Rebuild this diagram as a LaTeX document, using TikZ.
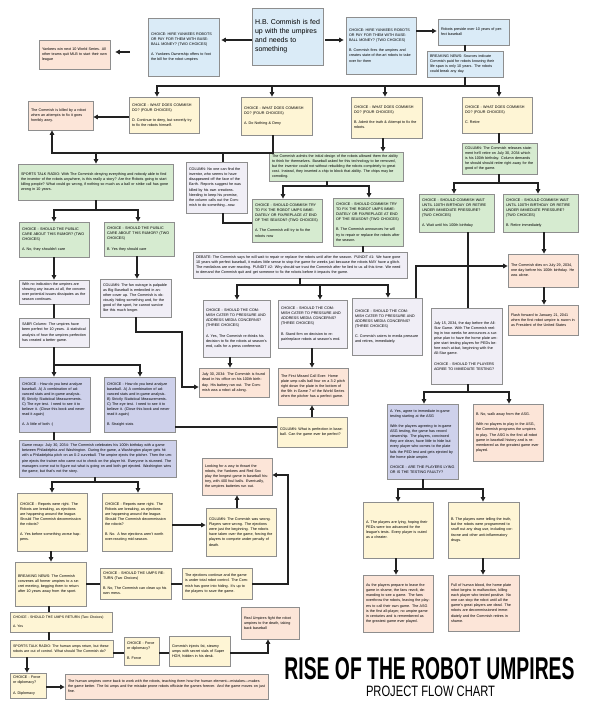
\documentclass[tikz,border=0pt]{standalone}
\usepackage{fontspec}
\setmainfont{Liberation Sans}
\usetikzlibrary{arrows.meta}
\definecolor{cblue}{HTML}{DAEBF7}
\definecolor{cpeach}{HTML}{FCE5D8}
\definecolor{cyell}{HTML}{FEF5D5}
\definecolor{cgreen}{HTML}{D6EBD0}
\definecolor{clav}{HTML}{F0EEF6}
\definecolor{cblav}{HTML}{CED1EB}
\definecolor{cline}{HTML}{222222}
\definecolor{cbord}{HTML}{8E8E8E}
\newcommand\bx[7]{%
  \pgfmathsetmacro\bxw{#5-#3}\pgfmathsetmacro\bxh{#6-#4}%
  \pgfmathsetmacro\bxcx{(#3+#5)/2}\pgfmathsetmacro\bxcy{(#4+#6)/2}%
  \pgfmathsetmacro\bxtw{#5-#3-6}%
  \node[fbox,#2,minimum width=\bxw pt,minimum height=\bxh pt,text width=\bxtw pt] (#1) at (\bxcx,\bxcy) {#7};}
\newcommand\gap{\\[5.1pt]}
\begin{document}
\begin{tikzpicture}[x=1pt,y=-1pt,
  fbox/.style={draw=cbord,line width=0.8pt,inner xsep=3pt,inner ysep=2pt,align=left,
    font=\fontsize{3.7}{5.1}\selectfont},
  bl/.style={fill=cblue}, pc/.style={fill=cpeach}, ye/.style={fill=cyell},
  gr/.style={fill=cgreen}, lv/.style={fill=clav}, bv/.style={fill=cblav},
  ln/.style={draw=cline,line width=1.5pt,line cap=rect},
  ar/.style={draw=cline,line width=1.5pt,-{Triangle[length=4.5pt,width=4.5pt]}}]
\fill[white] (0,0) rectangle (600,720);
\useasboundingbox (0,0) rectangle (600,720);
% ---------- top ----------
\bx{main}{bl,font=\fontsize{7}{9}\selectfont}{252}{8}{323}{65}{H.B. Commish is fed\\up with the umpires\\and needs to\\something}
\bx{chA}{bl}{148}{18}{219}{76}{CHOICE: HIRE YANKEES ROBOTS OR PAY FOR THEM WITH BASEBALL MONEY? (TWO CHOICES)\gap A. Yankees Ownership offers to foot the bill for the robot umpires}
\bx{yank}{pc}{39}{40}{110}{69}{Yankees win next 10 World Series. All other teams quit MLB to start their own league}
\bx{chB}{bl}{346}{17}{416}{74}{CHOICE: HIRE YANKEES ROBOTS OR PAY FOR THEM WITH BASEBALL MONEY? (TWO CHOICES)\gap B. Commish fires the umpires and creates state-of-the-art robots to take over for them}
\bx{robots}{bl}{438}{19}{509}{45}{Robots preside over 10 years of perfect baseball}
\bx{bnews}{bl}{427}{51}{503}{77}{BREAKING NEWS: Sources indicate Commish paid for robots knowing their life span is only 10 years. The robots could break any day.}
\bx{doD}{ye}{129}{97}{199}{133}{CHOICE - WHAT DOES COMMISH DO? (FOUR CHOICES)\gap D. Continue to deny, but secretly try to fix the robots himself.}
\bx{doA}{ye}{241}{97}{312}{135}{CHOICE - WHAT DOES COMMISH DO? (FOUR CHOICES)\gap A. Do Nothing \& Deny}
\bx{doB}{ye}{351}{97}{422}{138}{CHOICE - WHAT DOES COMMISH DO? (FOUR CHOICES)\gap B. Admit the truth \& Attempt to fix the robots.}
\bx{doC}{ye}{462}{97}{532}{133}{CHOICE - WHAT DOES COMMISH DO? (FOUR CHOICES)\gap C. Retire}
\bx{killed}{pc}{28}{101}{93}{130}{The Commish is killed by a robot when an attempts to fix it goes horribly awry.}
% ---------- second tier ----------
\bx{str1}{gr}{18}{164}{173}{200}{SPORTS TALK RADIO: With The Commish denying everything and nobody able to find the inventor of the robots anywhere, is this really a story? Are the Robots going to start killing people? What could go wrong, if nothing so much as a ball or strike call has gone wrong in 10 years.}
\bx{colinv}{lv}{186}{162}{247}{213}{COLUMN: No one can find the inventor, who seems to have disappeared off the face of the Earth. Reports suggest he was killed by his own creations. Needing to keep his promise, the column calls out the Commish to do something...now.}
\bx{admits}{gr}{269}{152}{403}{181}{The Commish admits the initial design of the robots allowed them the ability to think for themselves. Baseball asked for this technology to be removed, but the inventor could not without rebuilding the robots completely to great cost. Instead, they inserted a chip to block that ability. The chips may be corroding.}
\bx{fixA}{gr}{252}{199}{322}{242}{CHOICE - SHOULD COMMISH TRY TO FIX THE ROBOT UMPS IMMEDIATELY OR FIX/REPLACE AT END OF THE SEASON? (TWO CHOICES)\gap A. The Commish will try to fix the robots now}
\bx{fixB}{gr}{333}{198}{403}{246}{CHOICE - SHOULD COMMISH TRY TO FIX THE ROBOT UMPS IMMEDIATELY OR FIX/REPLACE AT END OF THE SEASON? (TWO CHOICES)\gap B. The Commish announces he will try to repair or replace the robots after the season.}
\bx{colret}{gr}{462}{143}{537}{174}{COLUMN: The Commish releases statement he'll retire on July 30, 2034 which is his 100th birthday. Column demands he should should retire right away for the good of the game.}
\bx{waitA}{gr}{419}{194}{494}{232}{CHOICE - SHOULD COMMISH WAIT UNTIL 100TH BIRTHDAY OR RETIRE UNDER IMMEDIATE PRESSURE? (TWO CHOICES)\gap A. Wait until his 100th birthday}
\bx{waitB}{gr}{503}{194}{578}{232}{CHOICE - SHOULD COMMISH WAIT UNTIL 100TH BIRTHDAY OR RETIRE UNDER IMMEDIATE PRESSURE? (TWO CHOICES)\gap B. Retire immediately}
\bx{dies}{pc}{508}{254}{578}{287}{The Commish dies on July 29, 2034, one day before his 100th birthday. He was alone.}
\bx{flash}{pc}{508}{305}{578}{335}{Flash forward to January 21, 2041 when the first robot umpire is sworn in as President of the United States}
\bx{pubA}{gr}{19}{222}{89}{257}{CHOICE - SHOULD THE PUBLIC CARE ABOUT THIS RUMOR? (TWO CHOICES)\gap A. No, they shouldn't care}
\bx{pubB}{gr}{104}{222}{174}{256}{CHOICE - SHOULD THE PUBLIC CARE ABOUT THIS RUMOR? (TWO CHOICES)\gap B. Yes they should care}
\bx{noind}{lv}{19}{280}{89}{304}{With no indication the umpires are showing any issues at all, the concern over potential issues dissipates as the season continues.}
\bx{colfan}{lv}{100}{279}{171}{317}{COLUMN: The fan outrage is palpable as Big Baseball is embroiled in another cover up. The Commish is obviously hiding something and, for the good of the sport, he cannot survive like this much longer.}
\bx{debate}{lv}{193}{252}{407}{278}{DEBATE: The Commish says he will wait to repair or replace the robots until after the season. PUNDIT \#1: We have gone 10 years with perfect baseball, it makes little sense to stop the game for weeks just because the robots MAY have a glitch. The mediafans are over-reacting. PUNDIT \#2: Why should we trust the Commish after he lied to us all this time. We need to demand the Commish quit and get someone to fix the robots before it impacts the game.}
\bx{catA}{lv}{203}{300}{270}{357}{CHOICE - SHOULD THE COMMISH CATER TO PRESSURE AND ADDRESS MEDIA CONCERNS? (THREE CHOICES)\gap A. Yes, The Commish re-thinks his decision to fix the robots at season's end, calls for a press conference.}
\bx{catB}{lv}{278}{300}{347}{348}{CHOICE - SHOULD THE COMMISH CATER TO PRESSURE AND ADDRESS MEDIA CONCERNS? (THREE CHOICES)\gap B. Stand firm on decision to repair/replace robots at season's end.}
\bx{catC}{lv}{352}{298}{422}{355}{CHOICE - SHOULD THE COMMISH CATER TO PRESSURE AND ADDRESS MEDIA CONCERNS? (THREE CHOICES)\gap C. Commish caters to media pressure and retires, immediately.}
\bx{jdead}{pc}{199}{368}{269}{397}{July 30, 2034: The Commish is found dead in his office on his 100th birthday. His battery ran out. The Commish was a robot all along.}
\bx{missed}{pc}{278}{368}{348}{405}{The First Missed Call Ever: Home plate ump calls ball four on a 3-2 pitch right down the plate in the bottom of the 9th in Game 7 of the World Series when the pitcher has a perfect game.}
\bx{colperf}{ye}{277}{417}{347}{447}{COLUMN: What is perfection in baseball. Can the game ever be perfect?}
\bx{sabr}{lv}{19}{318}{89}{347}{SABR Column: The umpires have been perfect for 10 years. A statistical analysis of how the umpires perfection has created a better game.}
\bx{anA}{bv}{19}{377}{90}{432}{CHOICE - How do you best analyze baseball. A) A combination of advanced stats and in-game analysis. B) Strictly Statistical Measurements. C) The eye test. I need to see it to believe it. (Close this book and never read it again)\gap A. A little of both :)}
\bx{anB}{bv}{104}{377}{175}{432}{CHOICE - How do you best analyze baseball. A) A combination of advanced stats and in-game analysis. B) Strictly Statistical Measurements. C) The eye test. I need to see it to believe it. (Close this book and never read it again)\gap B. Straight stats}
\bx{recap}{bv}{19}{440}{176}{477}{Game recap: July 30, 2034: The Commish celebrates his 100th birthday with a game between Philadelphia and Washington. During the game, a Washington player gets hit with a Philadelphia pitch on an 0-2 curveball. The umpire ejects the pitcher. Then the umpire ejects the trainer who came out to check on the player hit. Everyone is stunned. The managers come out to figure out what is going on and both get ejected. Washington wins the game, but that's not the story.}
\bx{repA}{ye}{17}{493}{87}{551}{CHOICE - Reports were right. The Robots are breaking, as ejections are happening around the league. Should The Commish decommission the robots?\gap A. Yes before something worse happens.}
\bx{repB}{ye}{102}{493}{172}{551}{CHOICE - Reports were right. The Robots are breaking, as ejections are happening around the league. Should The Commish decommission the robots?\gap B. No. A few ejections aren't worth over-reacting mid-season.}
\bx{colwrong}{ye}{206}{508}{276}{556}{COLUMN: The Commish was wrong. Players were wrong. The ejections were just the beginning. The robots have taken over the game, forcing the players to compete under penalty of death.}
\bx{looking}{pc}{202}{458}{272}{495}{Looking for a way to thwart the robots, the Yankees and Red Sox play the longest game in baseball history, with 400 foul balls. Eventually, the umpires batteries run out.}
\bx{bnews2}{ye}{15}{562}{86}{606}{BREAKING NEWS: The Commish convenes all former umpires to a secret meeting, begging them to return after 10 years away from the sport.}
\bx{umpsB}{ye}{100}{568}{171}{599}{CHOICE - SHOULD THE UMPS RETURN (Two Choices)\gap B. No, The Commish can clean up his own mess.}
\bx{eject}{ye}{182}{568}{252}{599}{The ejections continue and the game is under total robot control. The Commish has gone into hiding. It's up to the players to save the game.}
\bx{umpsA}{ye,inner ysep=1pt,font=\fontsize{3.5}{4.6}\selectfont}{10}{612}{112}{632}{CHOICE - SHOULD THE UMPS RETURN (Two Choices)\\[4.6pt]A. Yes}
\bx{str2}{ye,inner ysep=1pt,font=\fontsize{3.6}{4.5}\selectfont}{10}{640}{113}{657}{SPORTS TALK RADIO: The human umps return, but these robots are out of control. What should The Commish do?}
\bx{forceB}{ye}{124}{637}{159}{665}{CHOICE - Force or diplomacy?\gap B. Force}
\bx{hgh}{ye}{169}{636}{230}{666}{Commish injects fat, steamy umps with secret vials of Super HGH, hidden in his desk.}
\bx{real}{pc}{241}{607}{299}{639}{Real Umpires fight the robot umpires to the death, taking back baseball}
\bx{dipl}{ye}{10}{673}{46}{698}{CHOICE - Force or diplomacy?\gap A. Diplomacy}
\bx{final}{pc}{65}{674}{268}{699}{The human umpires come back to work with the robots, teaching them how the human element---mistakes---makes the game better. The fat umps and the mistake prone robots officiate the games forever. And the game moves on just fine.}
\bx{jul15}{lv}{431}{308}{502}{384}{July 15, 2034, the day before the All-Star Game. With The Commish reeling in two weeks he announces a surprise plan to have the home plate umpire start testing players for PEDs before each at-bat, beginning with the All-Star game.\gap CHOICE - SHOULD THE PLAYERS AGREE TO IMMEDIATE TESTING?}
\bx{yesASG}{bv}{387}{404}{458}{479}{A. Yes, agree to immediate in-game testing starting at the ASG\gap With the players agreeing to in-game ASG testing, the game has record viewership. The players, convinced they are clean, have little to hide but every player who comes to the plate fails the PED test and gets ejected by the home plate umpire.\gap CHOICE - ARE THE PLAYERS LYING OR IS THE TESTING FAULTY?}
\bx{noASG}{pc}{473}{404}{543}{461}{B. No, walk away from the ASG.\gap With no players to play in the ASG, the Commish programs the umpires to play. The ASG is the first all-robot game in baseball history and is remembered as the greatest game ever played.}
\bx{lying}{ye}{363}{502}{433}{558}{A. The players are lying, hoping their PEDs were too advanced for the league's tests. Every player is outed as a cheater.}
\bx{truth}{ye}{448}{502}{519}{558}{B. The players were telling the truth, but the robots were programmed to snuff out any drug use, including cortisone and other anti-inflammatory drugs.}
\bx{fans}{pc}{363}{575}{433}{632}{As the players prepare to leave the game in shame, the fans revolt, demanding to see a game. The fans overthrow the robots, leaving the players to call their own game. The ASG is the first all-player, no umpire game in centuries and is remembered as the greatest game ever played.}
\bx{blood}{pc}{448}{575}{519}{631}{Full of human blood, the home plate robot begins to malfunction, killing each player who tested positive. No one can stop the robot until all the game's great players are dead. The robots are decommissioned immediately and the Commish retires in shame.}
% ---------- title ----------
\node[inner sep=0pt] (title) at (429.5,668.5) {\resizebox{290pt}{22pt}{\bfseries RISE OF THE ROBOT UMPIRES}};
\node[inner sep=0pt] (subtitle) at (430.5,691.5) {\resizebox{129pt}{10.5pt}{PROJECT FLOW CHART}};
% ---------- connectors ----------
\draw[ar,shorten >=2pt] (main.west |- 0,40) -- (chA.east |- 0,40);
\draw[ar,shorten <=18pt,shorten >=5pt] (chA.west |- 0,52) -- (yank.east |- 0,52);
\draw[ar,shorten <=2pt,shorten >=2pt] (main.east |- 0,40) -- (chB.west |- 0,40);
\draw[ar,shorten >=1pt] (chB.east |- 0,31) -- (robots.west |- 0,31);
\draw[ln] (robots.south -| bnews.north) -- (bnews.north);
\draw[ln] (bnews.south) -- (bnews.south |- 0,86);
\coordinate (tL) at (157,86); \coordinate (tR) at (499,86);
\draw[ln] (tL) -- (tR);
\foreach \n/\x in {doD/157,doA/272,doB/385,doC/499}
  \draw[ar] (\x,86) -- (\n.north -| \x,0);
\draw[ar] (doD.west |- 0,117) -- (killed.east |- 0,117);
\draw[ln] (doA.south -| 273,0) -- (273,153) -- (52,153);
\draw[ar] (52,153) -- (killed.south -| 52,0);
\draw[ar] (96,153) -- (str1.north -| 96,0);
\draw[ln] (223,153) -- (colinv.north -| 223,0);
\draw[ln] (colinv.south -| 223,0) -- (223,223) -- (fixA.west |- 0,223);
\draw[ar] (doB.south -| 383,0) -- (admits.north -| 383,0);
\draw[ln] (admits.south -| 327,0) -- (327,186);
\draw[ln] (283,186) -- (369,186);
\draw[ar] (283,186) -- (fixA.north -| 283,0);
\draw[ar] (369,186) -- (fixB.north -| 369,0);
\draw[ln] (fixB.south -| 363,0) -- (debate.north -| 363,0);
\draw[ln] (debate.south) -- (debate.south |- 0,285);
\draw[ln] (237,285) -- (388,285);
\draw[ar] (237,285) -- (catA.north -| 237,0);
\draw[ar] (320,285) -- (catB.north -| 320,0);
\draw[ar] (388,285) -- (catC.north -| 388,0);
\draw[ln] (doC.south -| 499,0) -- (colret.north -| 499,0);
\draw[ln] (colret.south -| 499,0) -- (499,183);
\draw[ln] (454,183) -- (538,183);
\draw[ar] (454,183) -- (waitA.north -| 454,0);
\draw[ar] (538,183) -- (waitB.north -| 538,0);
\draw[ar] (waitB.south -| 544,0) -- (dies.north -| 544,0);
\draw[ar] (dies.south -| 544,0) -- (flash.north -| 544,0);
\draw[ln] (waitA.south -| 468,0) -- (jul15.north -| 468,0);
\draw[ar] (catC.north -| 416,0) -- (416,266) -- (dies.west |- 0,266);
\draw[ln] (str1.south -| 96,0) -- (96,210);
\draw[ln] (54,210) -- (138,210);
\draw[ar] (54,210) -- (pubA.north -| 54,0);
\draw[ar] (138,210) -- (pubB.north -| 138,0);
\draw[ar] (pubA.south -| 54,0) -- (noind.north -| 54,0);
\draw[ln] (noind.south -| 54,0) -- (sabr.north -| 54,0);
\draw[ar] (pubB.south -| 137,0) -- (colfan.north -| 137,0);
\draw[ar] (colfan.south -| 136,0) -- (136,332) -- (182,332) -- (182,387) -- (jdead.west |- 0,387);
\draw[ln] (sabr.south -| 54,0) -- (54,365) -- (140,365);
\draw[ar] (54,365) -- (anA.north -| 54,0);
\draw[ar] (140,365) -- (anB.north -| 140,0);
\draw[ln] (anB.east |- 0,427) -- (colperf.west |- 0,427);
\draw[ar] (colperf.north -| 312,0) -- (missed.south -| 312,0);
\draw[ar] (catA.south -| 230,0) -- (jdead.north -| 230,0);
\draw[ar] (catB.south -| 312,0) -- (missed.north -| 312,0);
\draw[ln] (anA.south -| 54,0) -- (recap.north -| 54,0);
\draw[ln] (recap.south -| 95,0) -- (95,482);
\draw[ln] (52,482) -- (138,482);
\draw[ar] (52,482) -- (repA.north -| 52,0);
\draw[ar] (138,482) -- (repB.north -| 138,0);
\draw[ar] (repB.east |- 0,525) -- (colwrong.west |- 0,525);
\draw[ar] (colwrong.north -| 237,0) -- (looking.south -| 237,0);
\draw[ar] (repA.south -| 51,0) -- (bnews2.north -| 51,0);
\draw[ln] (bnews2.east |- 0,584) -- (umpsB.west |- 0,584);
\draw[ln] (umpsB.east |- 0,584) -- (eject.west |- 0,584);
\draw[ar] (eject.east |- 0,584) -- (288,584) -- (288,475) -- (looking.east |- 0,475);
\draw[ln] (bnews2.south -| 49,0) -- (umpsA.north -| 49,0);
\draw[ln] (umpsA.south -| 49,0) -- (str2.north -| 49,0);
\draw[ln] (str2.east |- 0,653) -- (forceB.west |- 0,653);
\draw[ln] (forceB.east |- 0,653) -- (hgh.west |- 0,653);
\draw[ar] (hgh.east |- 0,653) -- (268,653) -- (real.south -| 268,0);
\draw[ar] (str2.south -| 27,0) -- (dipl.north -| 27,0);
\draw[ar] (dipl.east |- 0,687) -- (final.west |- 0,687);
\draw[ln] (jul15.south -| 468,0) -- (468,392);
\draw[ln] (424,392) -- (509,392);
\draw[ar] (424,392) -- (yesASG.north -| 424,0);
\draw[ar] (509,392) -- (noASG.north -| 509,0);
\draw[ln] (yesASG.south -| 423,0) -- (423,489);
\draw[ln] (398,489) -- (483,489);
\draw[ar] (398,489) -- (lying.north -| 398,0);
\draw[ar] (483,489) -- (truth.north -| 483,0);
\draw[ar] (lying.south -| 396,0) -- (fans.north -| 396,0);
\draw[ar] (truth.south -| 483,0) -- (blood.north -| 483,0);
\end{tikzpicture}
\end{document}
